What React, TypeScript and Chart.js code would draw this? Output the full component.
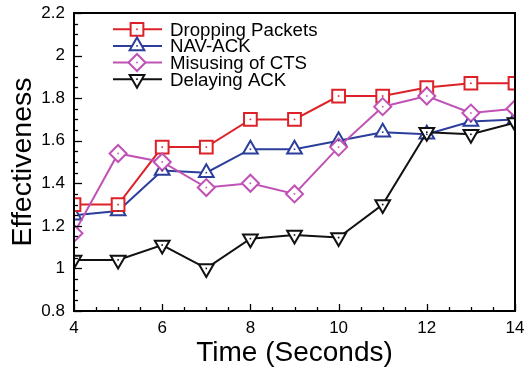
import React, { useEffect, useRef } from 'react';
import { Chart, registerables } from 'chart.js';

Chart.register(...registerables);

const times = [4, 5, 6, 7, 8, 9, 10, 11, 12, 13, 14];
const droppingPackets = [1.30, 1.30, 1.57, 1.57, 1.70, 1.70, 1.81, 1.81, 1.85, 1.87, 1.87];
const navAck = [1.25, 1.27, 1.46, 1.45, 1.56, 1.56, 1.60, 1.64, 1.63, 1.69, 1.70];
const misusingCts = [1.165, 1.54, 1.50, 1.38, 1.40, 1.35, 1.57, 1.76, 1.81, 1.73, 1.75];
const delayingAck = [1.04, 1.04, 1.11, 1.00, 1.14, 1.157, 1.145, 1.30, 1.64, 1.63, 1.685];
const seriesNames = ['Dropping Packets', 'NAV-ACK', 'Misusing of CTS', 'Delaying ACK'];
const xRange = [4, 14];
const yRange = [0.8, 2.2];
const xTickStep = 2;
const yTickStep = 0.2;
const xMinorStep = 0.5;
const yMinorStep = 0.05;

const RED = '#dc2128';
const BLUE = '#2b3e9c';
const MAGENTA = '#c052b6';
const BLACK = '#111111';

const FONT = '"Liberation Sans", Arial, Helvetica, sans-serif';

function drawMarker(ctx: CanvasRenderingContext2D, style: string, x: number, y: number, r: number) {
  ctx.beginPath();
  if (style === 'rect') {
    const s = Math.SQRT1_2 * r;
    ctx.rect(x - s, y - s, 2 * s, 2 * s);
  } else if (style === 'triangle' || style === 'triangleDown') {
    const sgn = style === 'triangle' ? 1 : -1;
    const a = [-90, 30, 150].map((d) => (d * Math.PI) / 180);
    a.forEach((ang, i) => {
      const px = x + Math.cos(ang) * r;
      const py = y + sgn * Math.sin(ang) * r;
      if (i === 0) ctx.moveTo(px, py);
      else ctx.lineTo(px, py);
    });
    ctx.closePath();
  } else if (style === 'rectRot') {
    ctx.moveTo(x, y - r);
    ctx.lineTo(x + r, y);
    ctx.lineTo(x, y + r);
    ctx.lineTo(x - r, y);
    ctx.closePath();
  }
  ctx.fillStyle = '#fff';
  ctx.fill();
  ctx.stroke();
}

const legendStyles = [
  { color: RED, style: 'rect', r: 9 },
  { color: BLUE, style: 'triangle', r: 8.5 },
  { color: MAGENTA, style: 'rectRot', r: 8.5 },
  { color: BLACK, style: 'triangleDown', r: 8.5 },
];

const decorPlugin = {
  id: 'decor',
  afterDatasetsDraw(chart: any) {
    const ctx: CanvasRenderingContext2D = chart.ctx;
    ctx.save();
    chart.data.datasets.forEach((ds: any, i: number) => {
      const meta = chart.getDatasetMeta(i);
      ctx.fillStyle = ds.borderColor;
      meta.data.forEach((pt: any) => {
        ctx.fillRect(pt.x - 0.8, pt.y - 0.8, 1.6, 1.6);
      });
    });
    ctx.restore();
  },
  afterDraw(chart: any) {
    const ctx: CanvasRenderingContext2D = chart.ctx;
    const a = chart.chartArea;
    const xs = chart.scales.x;
    const ys = chart.scales.y;
    ctx.save();
    ctx.strokeStyle = '#000';
    ctx.lineWidth = 1.3;
    for (let v = xRange[0]; v <= xRange[1] + 1e-6; v += xMinorStep) {
      const isMajor = Math.abs(v / xTickStep - Math.round(v / xTickStep)) < 1e-6;
      const px = Math.round(xs.getPixelForValue(v)) + 0.5;
      ctx.beginPath();
      ctx.moveTo(px, a.bottom);
      ctx.lineTo(px, a.bottom - (isMajor ? 7 : 4));
      ctx.stroke();
    }
    for (let v = yRange[0]; v <= yRange[1] + 1e-6; v += yMinorStep) {
      const isMajor = Math.abs(v / yTickStep - Math.round(v / yTickStep)) < 1e-6;
      const py = Math.round(ys.getPixelForValue(v)) + 0.5;
      ctx.beginPath();
      ctx.moveTo(a.left, py);
      ctx.lineTo(a.left + (isMajor ? 8 : 4), py);
      ctx.stroke();
    }
    ctx.lineWidth = 2;
    ctx.strokeRect(a.left, a.top, a.right - a.left, a.bottom - a.top);

    const rows = [29.3, 45.9, 62.5, 79.2];
    ctx.font = `18.7px ${FONT}`;
    ctx.textBaseline = 'alphabetic';
    ctx.textAlign = 'left';
    seriesNames.forEach((name, i) => {
      const st = legendStyles[i];
      const y = rows[i];
      ctx.strokeStyle = st.color;
      ctx.lineWidth = 2;
      ctx.beginPath();
      ctx.moveTo(113, y);
      ctx.lineTo(162, y);
      ctx.stroke();
      drawMarker(ctx, st.style, 137, y, st.r);
      ctx.fillStyle = st.color;
      ctx.fillRect(137 - 0.8, y - 0.8, 1.6, 1.6);
      ctx.fillStyle = '#000';
      ctx.fillText(name, 170, y + 6.5);
    });
    ctx.restore();
  },
};

function pts(values: number[]) {
  return times.map((t, i) => ({ x: t, y: values[i] }));
}

export default function App() {
  const ref = useRef<HTMLCanvasElement | null>(null);
  useEffect(() => {
    if (!ref.current) return;
    const mk = (label: string, values: number[], color: string, style: any, r: number, rot: number, order: number) => ({
      label,
      data: pts(values),
      borderColor: color,
      backgroundColor: color,
      borderWidth: 2,
      pointStyle: style,
      pointRadius: r,
      pointRotation: rot,
      pointBorderWidth: 2,
      pointBorderColor: color,
      pointBackgroundColor: '#ffffff',
      showLine: true,
      tension: 0,
      order,
    });
    const chart = new Chart(ref.current, {
      type: 'line',
      data: {
        datasets: [
          mk(seriesNames[0], droppingPackets, RED, 'rect', 9, 0, 2),
          mk(seriesNames[1], navAck, BLUE, 'triangle', 8.5, 0, 3),
          mk(seriesNames[2], misusingCts, MAGENTA, 'rectRot', 8.5, 0, 1),
          mk(seriesNames[3], delayingAck, BLACK, 'triangle', 8.5, 180, 0),
        ] as any,
      },
      options: {
        animation: false,
        responsive: true,
        maintainAspectRatio: false,
        layout: { padding: { top: 13, right: 15, left: 0, bottom: 0 } },
        plugins: { legend: { display: false }, tooltip: { enabled: false } },
        scales: {
          x: {
            type: 'linear',
            min: xRange[0],
            max: xRange[1],
            grid: { display: false, drawTicks: false },
            border: { display: false },
            ticks: {
              stepSize: xTickStep,
              padding: 7,
              color: '#000',
              font: { family: FONT, size: 17 },
              maxRotation: 0,
            },
            title: {
              display: true,
              text: 'Time (Seconds)',
              color: '#000',
              font: { family: FONT, size: 28 },
              padding: { top: 0, bottom: 2 },
            },
            afterFit: (s: any) => {
              s.height = 61;
              s.paddingLeft = 0;
              s.paddingRight = 0;
            },
          },
          y: {
            type: 'linear',
            min: yRange[0],
            max: yRange[1],
            grid: { display: false, drawTicks: false },
            border: { display: false },
            ticks: {
              stepSize: yTickStep,
              padding: 9,
              color: '#000',
              font: { family: FONT, size: 17 },
              callback: (v: any) => String(Number(Number(v).toFixed(1))),
            },
            title: {
              display: true,
              text: 'Effectiveness',
              color: '#000',
              font: { family: FONT, size: 28.5 },
              padding: { top: 6, bottom: 0 },
            },
            afterFit: (s: any) => {
              s.width = 74;
              s.paddingTop = 0;
              s.paddingBottom = 0;
            },
          },
        },
      },
      plugins: [decorPlugin],
    } as any);
    return () => chart.destroy();
  }, []);
  return (
    <div style={{ position: 'absolute', left: 0, top: 0, width: 530, height: 372, background: '#fff' }}>
      <canvas ref={ref} />
    </div>
  );
}
